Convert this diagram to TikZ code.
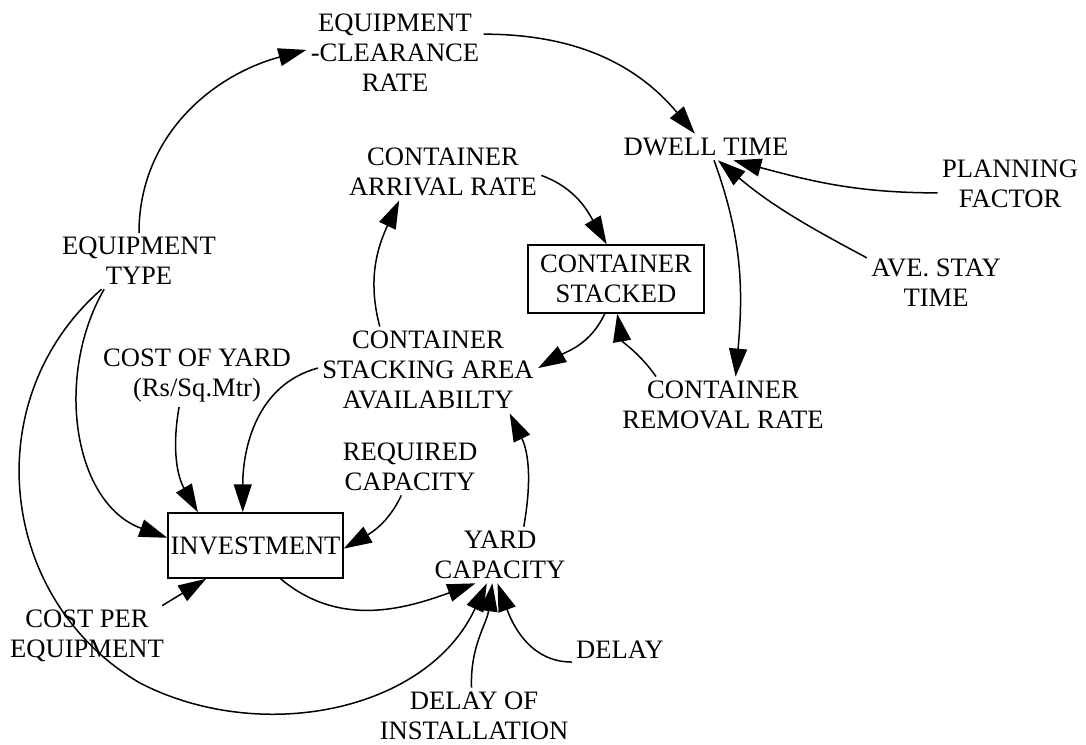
\documentclass[tikz,border=0pt]{standalone}
\usepackage{fontspec}
\setmainfont{Liberation Serif}
\usetikzlibrary{arrows.meta}
\begin{document}
\begin{tikzpicture}[x=0.5pt,y=-0.5pt,
    every node/.style={font=\fontsize{13.3pt}{15pt}\selectfont,align=center,inner sep=2pt},
    stockbox/.style={draw,line width=0.75pt,inner sep=0pt,minimum width=88pt,minimum height=34pt}]
  \useasboundingbox (0,0) rectangle (1086,744);
  \draw
    (395,53) node (eqclear){EQUIPMENT\\-CLEARANCE\\RATE}
    (706,147) node (dwell){DWELL TIME}
    (1010,184) node (planning){PLANNING\\FACTOR}
    (936,283) node (avestay){AVE. STAY\\TIME}
    (443,172) node (arrival){CONTAINER\\ARRIVAL RATE}
    (616,279) node[stockbox] (stacked){CONTAINER\\STACKED}
    (139,261) node (eqtype){EQUIPMENT\\TYPE}
    (428,370) node (stacking){CONTAINER\\STACKING AREA\\AVAILABILTY}
    (197,376) node (costyard){COST OF YARD\\(Rs/Sq.Mtr)}
    (723,405) node (removal){CONTAINER\\REMOVAL RATE}
    (410,467) node (required){REQUIRED\\CAPACITY}
    (255.5,545.5) node[stockbox,minimum width=87.5pt,minimum height=32.5pt] (invest){INVESTMENT}
    (500,555) node (yard){YARD\\CAPACITY}
    (87,636) node (costper){COST PER\\EQUIPMENT}
    (620,650) node (delay){DELAY}
    (474,716) node (delayinst){DELAY OF\\INSTALLATION};
  \begin{scope}[line width=0.75pt,-{Triangle[length=14pt,width=9pt]}]
    \draw (eqtype.90) to[out=90,in=195] (eqclear.178);
    \draw (eqclear.12) to[out=0,in=130] (dwell.130);
    \draw (planning.187) to[out=180,in=-15] (dwell.-26);
    \draw (avestay.160) to[out=152,in=-40] (dwell.-48);
    \draw (dwell.-59) to[out=-70,in=85] (removal.66);
    \draw (arrival.-2) to[out=-20,in=120] (stacked.105);
    \draw (stacked.-108) to[out=-115,in=30] (stacking.1);
    \draw (removal.157) to[out=125,in=-80] (stacked.-88);
    \draw (stacking.138) to[out=105,in=245] (arrival.213);
    \draw (stacking.179) to[out=195,in=90] (invest.111);
    \draw (costyard.-120) to[out=-100,in=120] (invest.150);
    \draw (eqtype.-141) to[out=-120,in=160] (invest.175);
    \draw (eqtype.-143) .. controls (-25,400) and (-1,601) .. (140,683)
      .. controls (260,745) and (427,712) .. (yard.-115);
    \draw (required.-107) to[out=-115,in=30] (invest.-2);
    \draw (invest.-53) to[out=-40,in=200] (yard.-131);
    \draw (costper.22) -- (invest.-146);
    \draw (delayinst.95) to[out=92,in=262] (yard.-105);
    \draw (delay.194) to[out=180,in=-70] (yard.-95);
    \draw (yard.50) to[out=80,in=-64] (stacking.-28);
  \end{scope}
\end{tikzpicture}
\end{document}
